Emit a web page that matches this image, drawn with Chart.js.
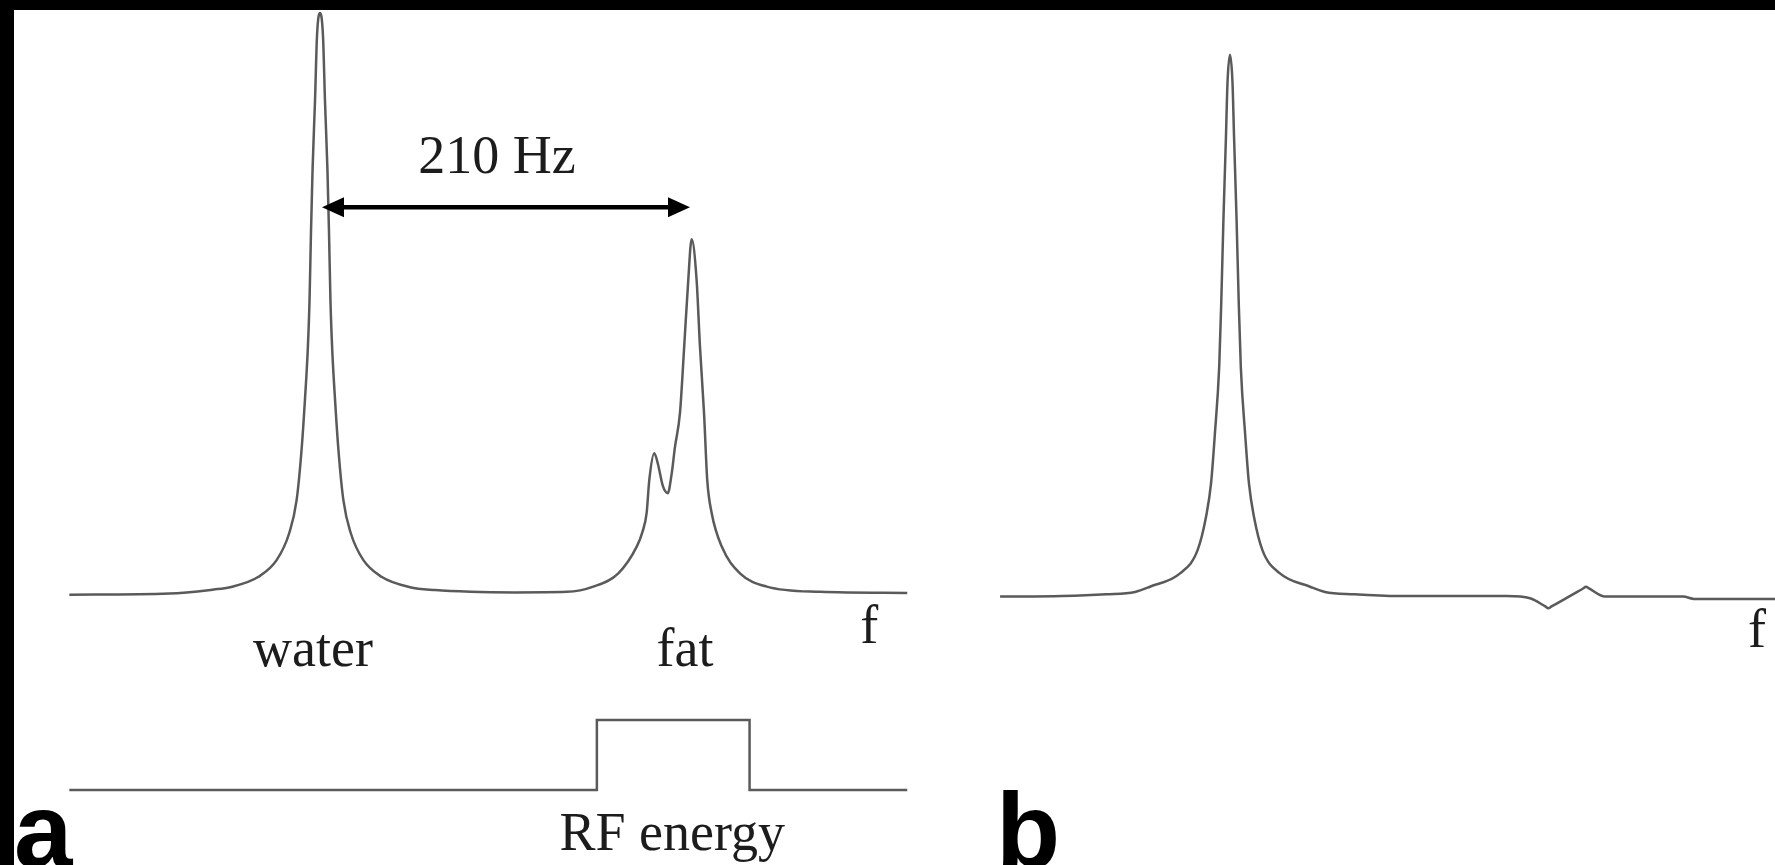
<!DOCTYPE html>
<html>
<head>
<meta charset="utf-8">
<script src="https://cdn.jsdelivr.net/npm/chart.js@4/dist/chart.umd.min.js"></script>
<style>
  html, body { margin: 0; padding: 0; background: #000; width: 1775px; height: 865px; overflow: hidden; }
  #paper { position: absolute; left: 14px; top: 10px; right: 0; bottom: 0; background: #fff; }
  .box { position: absolute; top: 10px; height: 855px; }
  #boxA { left: 14px; width: 916px; }
  #boxB { left: 930px; width: 845px; }
</style>
</head>
<body>
<div id="paper"></div>
<div class="box" id="boxA"><canvas id="chartA"></canvas></div>
<div class="box" id="boxB"><canvas id="chartB"></canvas></div>
<script>
// frequency in Hz relative to water, amplitude relative to water peak
const spectrumAFreq = [-141.5, -85, -60, -50.8, -34.7, -24.4, -17.4, -13.2, -10.4, -8.5, -6.9, -5.9, -5.1, -4.2, -2.8, -1.7, 0,
    1.7, 2.8, 4.2, 5.1, 5.9, 6.9, 8.5, 10.4, 13.2, 17.4, 24.4, 34.7, 50.8, 65, 85, 110,
    139.3, 154.3, 168.4, 178.8, 182, 184.4, 185.9, 188.7, 190.8, 193.5, 196.3, 198.5, 200.4, 203.2, 205.6, 207.9, 209.8,
    212.6, 214.5, 216.8, 218.6, 221.1, 226.8, 237.1, 252.2, 282.3, 331.5];
const spectrumAAmp = [-0.003, -0.001, 0.006, 0.010, 0.028, 0.057, 0.103, 0.160, 0.247, 0.333, 0.420, 0.505, 0.620, 0.730, 0.850, 0.960, 1.0,
    0.960, 0.850, 0.730, 0.620, 0.505, 0.420, 0.333, 0.247, 0.160, 0.103, 0.057, 0.028, 0.010, 0.005, 0.002, 0.001,
    0.002, 0.011, 0.034, 0.080, 0.105, 0.138, 0.195, 0.241, 0.222, 0.185, 0.172, 0.205, 0.252, 0.310, 0.425, 0.540, 0.610,
    0.540, 0.425, 0.310, 0.195, 0.138, 0.080, 0.034, 0.011, 0.002, 0.0];

// RF pulse (on/off) over frequency
const rfFreq = [-141.5, 156.3, 156.3, 242.5, 242.5, 331.5];
const rfLevel = [0, 0, 1, 1, 0, 0];

// after fat saturation
const spectrumBFreq = [-129.8, -95, -70, -53.6, -45.2, -28.2, -18.3, -13.5, -10.7, -8.5, -6.1, -4.9, -3.7, -2.3, -1.4, 0,
    1.4, 2.3, 3.7, 4.9, 6.1, 8.5, 10.7, 13.5, 18.3, 28.2, 45.2, 53.6, 70, 95,
    156.2, 169.4, 178, 179.7, 181.5, 199.3, 201.0, 202.7, 211.7, 255.9, 262, 307.7];
const spectrumBAmp = [-0.001, 0.0, 0.003, 0.007, 0.016, 0.039, 0.079, 0.137, 0.194, 0.281, 0.395, 0.510, 0.650, 0.790, 0.886, 0.933,
    0.886, 0.790, 0.650, 0.510, 0.395, 0.281, 0.194, 0.137, 0.079, 0.039, 0.016, 0.007, 0.003, 0.0,
    0.0, -0.004, -0.018, -0.021, -0.018, 0.013, 0.016, 0.013, -0.001, -0.001, -0.005, -0.005];

const peakNames = ["water", "fat"];
const peakFreqs = [0, 210];
const shiftLabel = "210 Hz";
const rfLabel = "RF energy";
const axisLabel = "f";
const panelLabels = ["a", "b"];

const lineColor = "#5a5a5a";
const serif = "'Liberation Serif', 'Times New Roman', serif";
const sans = "bold 105px 'Liberation Sans', Arial, sans-serif";

function pts(xs, ys) {
    return xs.map((x, i) => ({ x: x, y: ys[i] }));
}

function hiddenAxis(axis, min, max) {
    return { type: "linear", axis: axis, display: false, min: min, max: max };
}

const baseOptions = {
    responsive: true,
    maintainAspectRatio: false,
    animation: false,
    layout: { padding: 0 },
    elements: { point: { radius: 0 } },
    plugins: { legend: { display: false }, tooltip: { enabled: false } }
};

function arrowHead(ctx, x, y, dir) {
    ctx.beginPath();
    ctx.moveTo(x, y);
    ctx.lineTo(x - dir * 22, y - 10);
    ctx.lineTo(x - dir * 22, y + 10);
    ctx.closePath();
    ctx.fill();
}

const labelsA = {
    id: "labelsA",
    afterDraw(chart) {
        const ctx = chart.ctx;
        const xs = chart.scales.x, ys = chart.scales.y, rs = chart.scales.yRf;
        ctx.save();
        ctx.fillStyle = "#1c1c1c";
        ctx.font = "54px " + serif;
        ctx.textAlign = "center";
        ctx.textBaseline = "alphabetic";
        const y0 = ys.getPixelForValue(0);
        peakNames.forEach((name, i) => {
            ctx.fillText(name, xs.getPixelForValue(peakFreqs[i]) - 7, y0 + 73);
        });
        ctx.fillText(axisLabel, xs.getPixelForValue(spectrumAFreq[spectrumAFreq.length - 1]) - 38, y0 + 50);
        const rfMid = (rfFreq[1] + rfFreq[3]) / 2;
        ctx.fillText(rfLabel, xs.getPixelForValue(rfMid) - 1, rs.getPixelForValue(0) + 60);

        // arrow between water and fat
        const ay = ys.getPixelForValue(0.665);
        const ax1 = xs.getPixelForValue(peakFreqs[0]) + 2;
        const ax2 = xs.getPixelForValue(peakFreqs[1]) - 2;
        ctx.strokeStyle = "#000";
        ctx.fillStyle = "#000";
        ctx.lineWidth = 4.5;
        ctx.beginPath();
        ctx.moveTo(ax1 + 15, ay);
        ctx.lineTo(ax2 - 15, ay);
        ctx.stroke();
        arrowHead(ctx, ax1, ay, -1);
        arrowHead(ctx, ax2, ay, 1);
        ctx.fillStyle = "#1c1c1c";
        ctx.fillText(shiftLabel, (ax1 + ax2) / 2 - 9, ay - 34);

        ctx.font = sans;
        ctx.fillStyle = "#000";
        ctx.textAlign = "left";
        ctx.fillText(panelLabels[0], 0, 857);
        ctx.restore();
    }
};

const labelsB = {
    id: "labelsB",
    afterDraw(chart) {
        const ctx = chart.ctx;
        const xs = chart.scales.x, ys = chart.scales.y;
        ctx.save();
        ctx.fillStyle = "#1c1c1c";
        ctx.font = "54px " + serif;
        ctx.textAlign = "center";
        ctx.fillText(axisLabel, xs.getPixelForValue(spectrumBFreq[spectrumBFreq.length - 1]) - 18, ys.getPixelForValue(0) + 51);
        ctx.font = sans;
        ctx.fillStyle = "#000";
        ctx.textAlign = "left";
        ctx.fillText(panelLabels[1], 66, 857);
        ctx.restore();
    }
};

new Chart("chartA", {
    type: "line",
    data: {
        datasets: [{
            data: pts(spectrumAFreq, spectrumAAmp),
            borderColor: lineColor,
            borderWidth: 2.5,
            cubicInterpolationMode: "monotone",
            fill: false
        }, {
            data: pts(rfFreq, rfLevel),
            yAxisID: "yRf",
            borderColor: lineColor,
            borderWidth: 2.5,
            tension: 0,
            fill: false
        }]
    },
    options: Object.assign({}, baseOptions, {
        scales: {
            x: hiddenAxis("x", -172.74, 344.36),
            y: hiddenAxis("y", -0.46897, 1.00517),
            yRf: hiddenAxis("y", -1.0714, 11.143)
        }
    }),
    plugins: [labelsA]
});

new Chart("chartB", {
    type: "line",
    data: {
        datasets: [{
            data: pts(spectrumBFreq, spectrumBAmp),
            borderColor: lineColor,
            borderWidth: 2.5,
            cubicInterpolationMode: "monotone",
            fill: false
        }]
    },
    options: Object.assign({}, baseOptions, {
        scales: {
            x: hiddenAxis("x", -169.36, 307.67),
            y: hiddenAxis("y", -0.46379, 1.01034)
        }
    }),
    plugins: [labelsB]
});
</script>
</body>
</html>
